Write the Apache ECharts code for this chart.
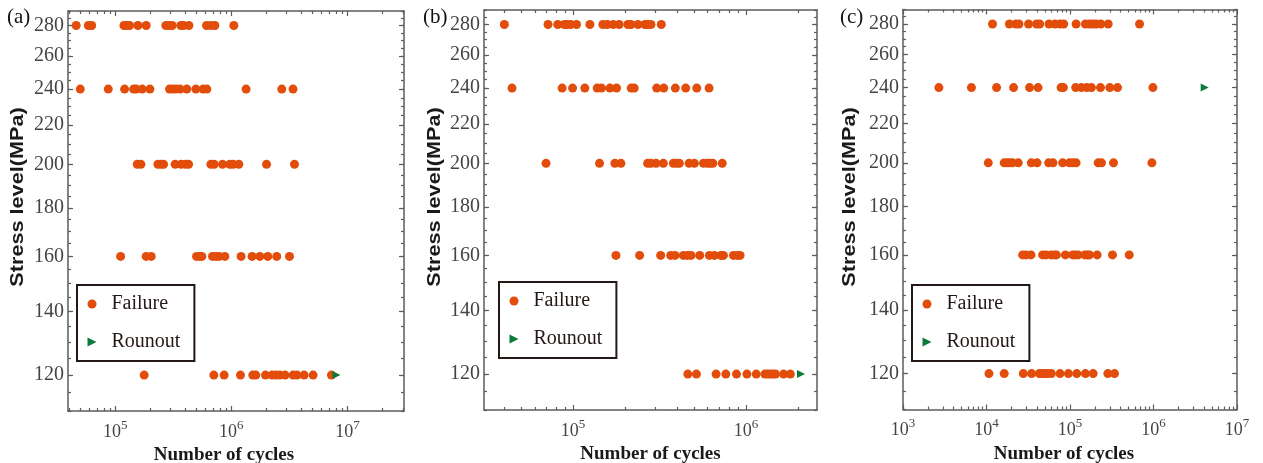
<!DOCTYPE html>
<html>
<head>
<meta charset="utf-8">
<script src="https://cdn.jsdelivr.net/npm/echarts@6/dist/echarts.min.js"></script>
<style>
  html, body { margin: 0; padding: 0; background: #fff; }
  #chart { width: 1263px; height: 463px; }
</style>
</head>
<body>
<div id="chart"></div>
<script>
// Stress levels (MPa) of the five test series, top row first
const stressLevels = [280, 240, 200, 160, 120];
// Labelled stress ticks (MPa)
const stressTicks = [120, 140, 160, 180, 200, 220, 240, 260, 280];
const panelTags = ['(a)', '(b)', '(c)'];

// (a) cycles to failure at each stress level
const cyclesA280 = [46100, 58700, 62700, 118900, 126000, 133000, 156800, 184700, 273000, 291500, 309500, 367600, 387800, 430900, 611700, 666900, 721500, 1051000];
const cyclesA240 = [50000, 87100, 120400, 144000, 151600, 170800, 198900, 293600, 311700, 333000, 362600, 413900, 494700, 571700, 615200, 1340000, 2720000, 3400000];
const cyclesA200 = [154700, 166400, 233000, 248700, 260800, 328000, 369500, 403300, 428300, 666900, 711800, 840000, 970000, 1037000, 1161000, 2010000, 3500000];
const cyclesA160 = [111300, 184700, 204300, 501400, 535400, 557000, 688500, 740000, 785000, 879000, 1214000, 1510000, 1760000, 2060000, 2460000, 3170000];
const cyclesA120 = [177600, 706600, 867000, 1199000, 1530000, 1625000, 1968000, 2245000, 2415000, 2615000, 2905000, 3405000, 3685000, 4235000, 5060000, 7280000];
const runoutCyclesA = [8040000];
const runoutStressA = [120];

// (b) cycles to failure at each stress level
const cyclesB280 = [40000, 71600, 81500, 89100, 92800, 97000, 104700, 125100, 148700, 157500, 170600, 184800, 207600, 216100, 237300, 260500, 271100, 282300, 323800];
const cyclesB240 = [44300, 86400, 99300, 116900, 137800, 146100, 163300, 178500, 216900, 225700, 304600, 334500, 390600, 448500, 519600, 612300];
const cyclesB200 = [69700, 142200, 174500, 189100, 270000, 282300, 301700, 332800, 380300, 398000, 412000, 469000, 503500, 567700, 598700, 620700, 643700, 729700];
const cyclesB160 = [177000, 242700, 321300, 367000, 389000, 434700, 458400, 481500, 540600, 614800, 657500, 716100, 741600, 847300, 893800, 926000];
const cyclesB120 = [461300, 517300, 672600, 765500, 882300, 1014000, 1148000, 1289000, 1335000, 1384000, 1434000, 1486000, 1653000, 1808000];
const runoutCyclesB = [2084000];
const runoutStressB = [120];

// (c) cycles to failure at each stress level
const cyclesC280 = [11800, 18800, 22500, 24500, 31900, 39800, 43300, 56100, 66300, 76100, 84000, 118300, 153000, 169400, 187500, 205700, 233600, 286700, 680500];
const cyclesC240 = [2690, 6600, 13200, 21100, 32800, 41400, 78200, 83300, 117000, 137000, 158600, 180600, 231700, 299800, 370700, 984000];
const cyclesC200 = [10500, 16300, 17600, 18900, 20500, 24000, 34400, 40300, 55500, 62600, 81700, 98400, 107900, 118300, 217400, 238300, 332000, 957000];
const cyclesC160 = [27100, 29700, 34100, 47000, 51600, 59300, 65000, 68700, 88100, 107900, 116200, 125100, 150300, 161900, 171100, 211400, 322800, 512000];
const cyclesC120 = [10700, 16300, 27600, 34700, 42900, 46200, 49700, 54000, 59900, 76000, 95700, 120500, 153000, 189300, 283800, 341300];
const runoutCyclesC = [4100000];
const runoutStressC = [240];

// ---- styling ----
const SERIF = '"Liberation Serif", "Times New Roman", serif';
const SANS = '"Liberation Sans", Arial, sans-serif';
const FRAME = '#5c5c5c';
const FAIL_COLOR = '#e24d0c';
const RUN_COLOR = '#0b7a3a';
const RIGHT_TRIANGLE = 'path://M0,0L10,5L0,10Z';

const panels = [
  { failures: [cyclesA280, cyclesA240, cyclesA200, cyclesA160, cyclesA120], runCycles: runoutCyclesA, runStress: runoutStressA,
    grid: { left: 68, top: 11, width: 336, height: 400 }, xMin: 39200, xMax: 30700000, decades: [5, 6, 7],
    namePad: [0, 24, 0, 0], legend: { left: 77, top: 285 }, tag: { x: 7, y: 17 }, yTitle: { x: 18, y: 197 } },
  { failures: [cyclesB280, cyclesB240, cyclesB200, cyclesB160, cyclesB120], runCycles: runoutCyclesB, runStress: runoutStressB,
    grid: { left: 484, top: 10, width: 333, height: 400 }, xMin: 30500, xMax: 2580000, decades: [5, 6],
    namePad: [0, 0, 0, 0], legend: { left: 499, top: 282 }, tag: { x: 423, y: 17 }, yTitle: { x: 435, y: 197 } },
  { failures: [cyclesC280, cyclesC240, cyclesC200, cyclesC160, cyclesC120], runCycles: runoutCyclesC, runStress: runoutStressC,
    grid: { left: 903, top: 9.5, width: 334, height: 400 }, xMin: 1000, xMax: 10000000, decades: [3, 4, 5, 6, 7],
    namePad: [0, 12, 0, 0], legend: { left: 912, top: 285 }, tag: { x: 840, y: 17 }, yTitle: { x: 850, y: 197 } }
];

// minor stress ticks every 5 MPa
const stressMinor = [];
for (let s = 110; s <= 290; s += 5) stressMinor.push(s);

function minorCycles(min, max) {
  const out = [];
  for (let e = Math.floor(Math.log10(min)); e <= Math.ceil(Math.log10(max)); e++) {
    for (let k = 2; k <= 9; k++) {
      const v = k * Math.pow(10, e);
      if (v >= min && v <= max) out.push(v);
    }
  }
  return out;
}

const grids = [], xAxes = [], yAxes = [], series = [], legends = [], graphics = [];

panels.forEach((p, i) => {
  // fixed plot boxes: labels may sit outside without the box shrinking
  grids.push(Object.assign({ containLabel: false, outerBoundsMode: 'none' }, p.grid));
  const majors = p.decades.map(d => Math.pow(10, d));
  const minors = minorCycles(p.xMin, p.xMax);
  const xBase = { type: 'log', logBase: 10, gridIndex: i, min: p.xMin, max: p.xMax, splitLine: { show: false } };
  const yBase = { type: 'log', logBase: 10, gridIndex: i, min: 110, max: 290, splitLine: { show: false } };
  const line = { show: true, lineStyle: { color: FRAME, width: 1.5 } };
  const noLine = { show: false };
  const tick = (vals, len) => ({ show: true, inside: true, length: len, customValues: vals, lineStyle: { color: FRAME, width: 1.2 } });

  const xIdx = xAxes.length;
  xAxes.push(Object.assign({}, xBase, {
    position: 'bottom', axisLine: line, axisTick: tick(majors, 5),
    name: 'Number of cycles', nameLocation: 'middle', nameGap: 32,
    nameTextStyle: { fontFamily: SERIF, fontSize: 19, fontWeight: 'bold', color: '#1a1a1a', padding: p.namePad },
    axisLabel: {
      show: true, customValues: majors, margin: 8,
      formatter: v => '{b|10}{s|' + Math.round(Math.log10(v)) + '}',
      rich: {
        b: { fontFamily: SERIF, fontSize: 18, lineHeight: 26, color: '#444' },
        s: { fontFamily: SERIF, fontSize: 13, lineHeight: 8, verticalAlign: 'top', color: '#444' }
      }
    }
  }));
  xAxes.push(Object.assign({}, xBase, { position: 'top', axisLine: line, axisTick: tick(majors, 5), axisLabel: { show: false } }));
  xAxes.push(Object.assign({}, xBase, { position: 'bottom', axisLine: noLine, axisTick: tick(minors, 3), axisLabel: { show: false } }));
  xAxes.push(Object.assign({}, xBase, { position: 'top', axisLine: noLine, axisTick: tick(minors, 3), axisLabel: { show: false } }));

  const yIdx = yAxes.length;
  yAxes.push(Object.assign({}, yBase, {
    position: 'left', axisLine: line, axisTick: tick(stressTicks, 5),
    axisLabel: { show: true, customValues: stressTicks, margin: 4, fontFamily: SERIF, fontSize: 20, color: '#444' }
  }));
  yAxes.push(Object.assign({}, yBase, { position: 'right', axisLine: line, axisTick: tick(stressTicks, 5), axisLabel: { show: false } }));
  yAxes.push(Object.assign({}, yBase, { position: 'left', axisLine: noLine, axisTick: tick(stressMinor, 3), axisLabel: { show: false } }));
  yAxes.push(Object.assign({}, yBase, { position: 'right', axisLine: noLine, axisTick: tick(stressMinor, 3), axisLabel: { show: false } }));

  const failData = [];
  p.failures.forEach((row, r) => row.forEach(c => failData.push([c, stressLevels[r]])));
  series.push({
    type: 'scatter', name: 'Failure', xAxisIndex: xIdx, yAxisIndex: yIdx,
    symbol: 'circle', symbolSize: 9, itemStyle: { color: FAIL_COLOR, opacity: 1 },
    data: failData, silent: true
  });
  series.push({
    type: 'scatter', name: 'Rounout', xAxisIndex: xIdx, yAxisIndex: yIdx,
    symbol: RIGHT_TRIANGLE, symbolSize: 8, itemStyle: { color: RUN_COLOR, opacity: 1 },
    data: p.runCycles.map((c, k) => [c, p.runStress[k]]), silent: true, z: 3
  });

  legends.push({
    left: p.legend.left, top: p.legend.top, orient: 'vertical',
    padding: [9, 14, 9, 10.5], itemGap: 18, itemWidth: 9, itemHeight: 9,
    borderColor: '#231815', borderWidth: 2, selectedMode: false,
    textStyle: { fontFamily: SERIF, fontSize: 20, color: '#231815', padding: [0, 0, 0, 10] },
    data: [{ name: 'Failure', icon: 'circle' }, { name: 'Rounout', icon: RIGHT_TRIANGLE }]
  });

  graphics.push({
    type: 'text', x: p.tag.x, y: p.tag.y,
    style: { text: panelTags[i], fontFamily: SERIF, fontSize: 21, fill: '#111', align: 'left', verticalAlign: 'middle', textAlign: 'left', textVerticalAlign: 'middle' }
  });
  graphics.push({
    type: 'text', x: p.yTitle.x, y: p.yTitle.y, rotation: Math.PI / 2, scaleX: 1.14,
    style: { text: 'Stress level(MPa)', fontFamily: SANS, fontSize: 19, fontWeight: 'bold', fill: '#1a1a1a', align: 'center', verticalAlign: 'middle', textAlign: 'center', textVerticalAlign: 'middle' }
  });
});

const chart = echarts.init(document.getElementById('chart'), null, { renderer: 'canvas' });
chart.setOption({
  animation: false,
  backgroundColor: '#fff',
  grid: grids,
  xAxis: xAxes,
  yAxis: yAxes,
  legend: legends,
  graphic: graphics,
  series: series
});
</script>
</body>
</html>
